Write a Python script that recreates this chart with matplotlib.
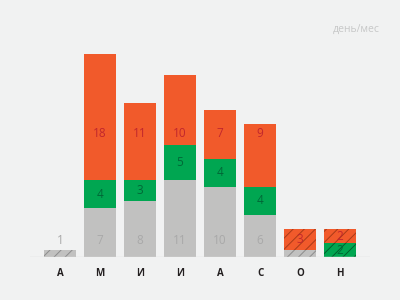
import matplotlib
matplotlib.use('Agg')
import matplotlib.pyplot as plt

months = ['А', 'М', 'И', 'И', 'А', 'С', 'О', 'Н']
gray_vals = [1, 7, 8, 11, 10, 6, 1, 0]
green_vals = [0, 4, 3, 5, 4, 4, 0, 2]
orange_vals = [0, 18, 11, 10, 7, 9, 3, 2]
# months with incomplete data are drawn hatched
partial = [True, False, False, False, False, False, True, True]
show_gray_label = [True, True, True, True, True, True, False, False]

BG = '#f1f2f2'
GRAY = '#c1c1c0'
GREEN = '#00a651'
ORANGE = '#f15a2b'

plt.rcParams['font.family'] = ['Open Sans', 'DejaVu Sans']
plt.rcParams['hatch.linewidth'] = 0.7

fig = plt.figure(figsize=(4, 3), dpi=100, facecolor=BG)
ax = fig.add_axes([0.075, 1 - 257 / 300, 0.85, 247 / 300])
ax.set_facecolor(BG)

x = list(range(len(months)))
w = 0.8
bottoms = [0] * len(months)
layers = [
    (gray_vals, GRAY, '#8c8c8c', '#a9a9a9'),
    (green_vals, GREEN, '#00602c', '#006837'),
    (orange_vals, ORANGE, '#a83a18', '#c1272d'),
]
for vals, color, hatch_col, text_col in layers:
    for i, v in enumerate(vals):
        if v == 0:
            continue
        if partial[i]:
            ax.bar(x[i], v, w, bottom=bottoms[i], color=color, edgecolor=hatch_col,
                   linewidth=0, hatch='///')
        else:
            ax.bar(x[i], v, w, bottom=bottoms[i], color=color, linewidth=0)
        # label placement
        if color == GRAY:
            ty = 2.3 if show_gray_label[i] else None
        elif color == ORANGE and not partial[i]:
            ty = 17.6
        else:
            ty = bottoms[i] + v / 2
        if ty is not None:
            ax.text(x[i], ty, str(v), ha='center', va='center', fontsize=8.5,
                    color=text_col)
        bottoms[i] += v

ax.set_xlim(-0.75, 7.75)
ax.set_ylim(0, 247 / 7)
ax.axhline(0, color='#dcdddd', lw=1)
for s in ax.spines.values():
    s.set_visible(False)
ax.set_yticks([])
ax.set_xticks(x)
ax.set_xticklabels(months, fontsize=7, fontweight='bold', color='#231f20')
ax.tick_params(axis='x', length=0, pad=8)

fig.text(380 / 400, 1 - 29 / 300, 'день/мес', ha='right', va='center',
         fontsize=7.5, color='#c7c8c8')

fig.savefig('out.png', dpi=100, facecolor=BG)
